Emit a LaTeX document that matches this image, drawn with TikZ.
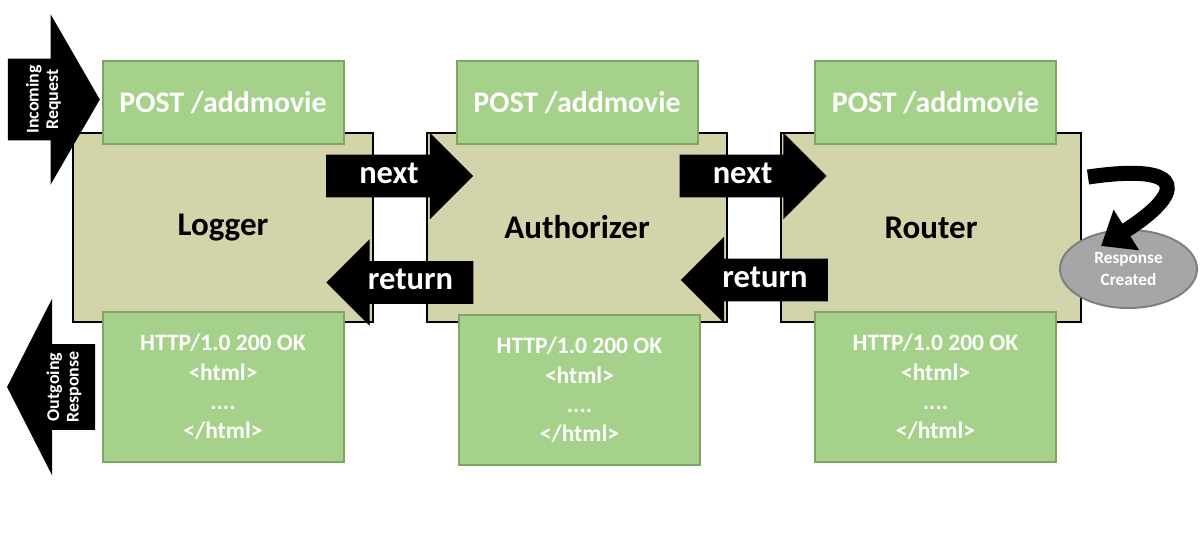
\documentclass[tikz,border=0pt]{standalone}
\usepackage{fontspec}
\setmainfont{Carlito}
\usetikzlibrary{positioning,calc,shapes.geometric,shapes.arrows,arrows.meta}
\definecolor{stagefill}{HTML}{D4D4AA}
\definecolor{msgfill}{HTML}{A6D18A}
\definecolor{msgline}{HTML}{7FA565}
\definecolor{donefill}{HTML}{A6A6A6}
\definecolor{doneline}{HTML}{7F7F7F}
\tikzset{
	middleware/.style={rectangle,draw=black,line width=0.04cm,fill=stagefill,
		minimum width=6cm,minimum height=3.78cm,
		font=\bfseries\fontsize{18.8}{22}\selectfont},
	request/.style={rectangle,draw=msgline,line width=0.04cm,fill=msgfill,
		minimum width=4.82cm,minimum height=1.66cm,text=white,
		font=\bfseries\fontsize{17}{20}\selectfont},
	response/.style={request,minimum height=3cm,align=center,
		font=\bfseries\fontsize{13.4}{16.6}\selectfont},
	pass/.style={single arrow,fill=black,text=white,inner xsep=0.1cm,inner ysep=0pt,
		text height=0.57cm,text depth=0.27cm,minimum height=2.94cm,
		single arrow head extend=0.44cm,font=\bfseries\fontsize{18.5}{22}\selectfont},
	passback/.style={pass,shape border rotate=180},
	edgearrow/.style={single arrow,fill=black,inner sep=0pt,inner ysep=0.81cm,
		single arrow head extend=0.89cm,single arrow tip angle=120,minimum height=1.84cm},
	edgelabel/.style={rotate=90,align=center,text=white,inner sep=0pt,
		font=\bfseries\fontsize{10.2}{11.2}\selectfont},
	done/.style={ellipse,draw=doneline,line width=0.04cm,fill=donefill,
		minimum width=2.74cm,minimum height=1.56cm,inner sep=0pt,align=center,
		text=white,font=\bfseries\fontsize{9.8}{12}\selectfont},
	curl/.style={line width=0.3cm,-{Triangle[length=0.6cm,width=0.92cm]}}
}

\begin{document}
\begin{tikzpicture}
	\useasboundingbox (0,0) rectangle (24,-10.78);
	% the three middleware stages
	\node[middleware] (logger) at (4.46,-4.55) {Logger};
	\node[middleware] (authorizer) [right=1.04cm of logger] {Authorizer};
	\node[middleware] (router) [right=1.04cm of authorizer] {Router};
	
	% request in, response out
	\node[edgearrow] (incoming) at (0.84,-1.99) {};
	\node[edgelabel] (incomingtext) at (0.87,-1.99) {Incoming\\Request};
	\node[edgearrow,shape border rotate=180,inner ysep=0.85cm,minimum height=1.76cm,
		single arrow head extend=0.91cm,single arrow tip angle=126] (outgoing) at (1.24,-7.74) {};
	\node[edgelabel] (outgoingtext) at (1.28,-7.74) {Outgoing\\Response};
	
	% messages
	\node[request] (loggerreq) [above=-0.26cm of logger] {POST /addmovie};
	\node[request] (authreq) [above=-0.26cm of authorizer] {POST /addmovie};
	\node[request] (routerreq) [above=-0.26cm of router, xshift=0.09cm] {POST /addmovie};
	\node[response] (loggerres) [below=-0.24cm of logger] {HTTP/1.0 200 OK\\<html>\\....\\</html>};
	\node[response] (authres) [below=-0.18cm of authorizer, xshift=0.05cm] {HTTP/1.0 200 OK\\<html>\\....\\</html>};
	\node[response] (routerres) [below=-0.24cm of router, xshift=0.09cm] {HTTP/1.0 200 OK\\<html>\\....\\</html>};
	
	% next / return
	\node[pass] (next1) at ($(logger.east)!0.5!(authorizer.west)+(-0.22,1.03)$) {next};
	\node[passback] (return1) at ($(logger.east)!0.5!(authorizer.west)+(0.21,-1.1)$) {return};
	\node[pass] (next2) at ($(authorizer.east)!0.5!(router.west)+(-0.23,1.03)$) {next};
	\node[passback] (return2) at ($(authorizer.east)!0.5!(router.west)+(0.22,-1.05)$) {return};
	
	% router answers itself
	\node[done] (created) at ($(router.east)+(0.93,-0.83)$) {Response\\Created};
	\coordinate (curlstart) at ($(router.east)+(0.12,1.01)$);
	\coordinate (curlend) at ($(created.center)+(-0.55,0.46)$);
	\draw[curl] (curlstart) .. controls +(2.08,0.3) and +(1.62,1.02) .. (curlend);
\end{tikzpicture}
\end{document}
